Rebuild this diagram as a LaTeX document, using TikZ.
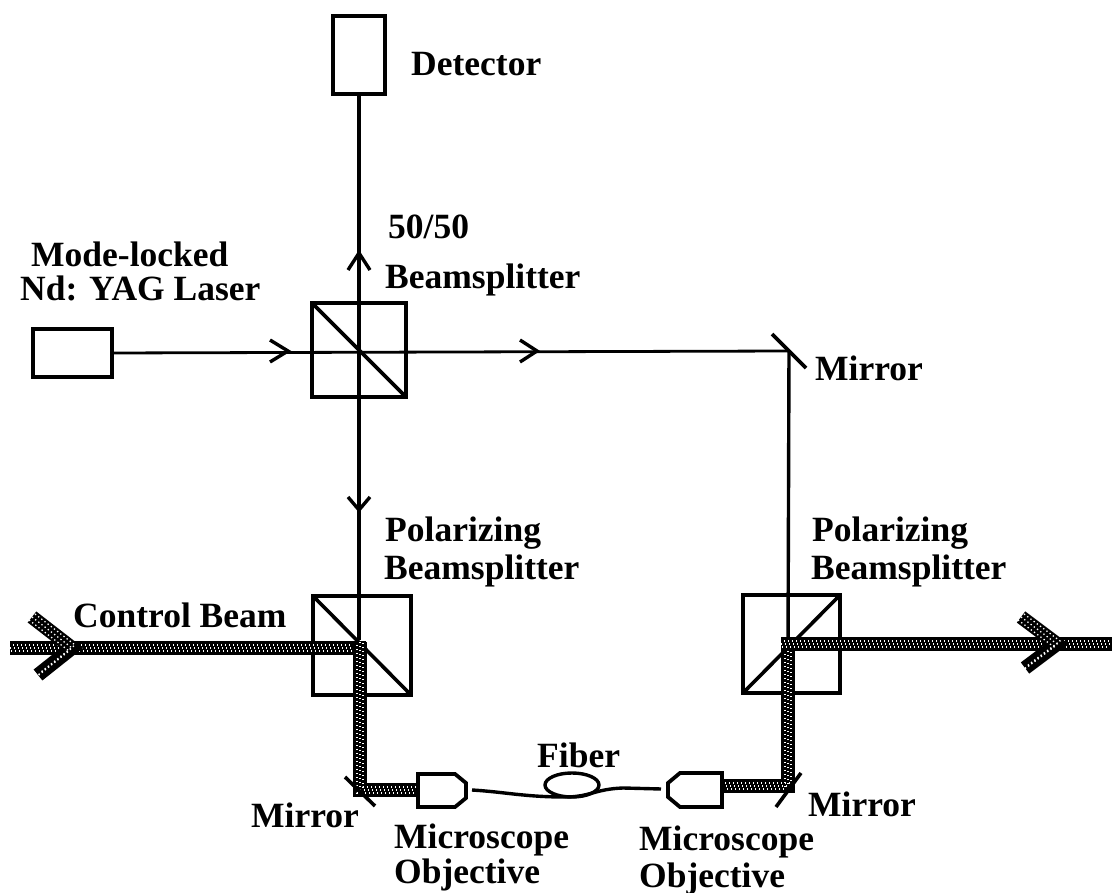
\documentclass[tikz,border=0pt]{standalone}
\usepackage{fontspec}
\setmainfont{Liberation Serif}
\usetikzlibrary{calc,shapes.geometric}
\begin{document}
\begin{tikzpicture}[x=1pt,y=-1pt,
  box/.style={draw=black,line width=3.8pt,fill=white,inner sep=0pt,outer sep=0pt},
  edge line/.style={draw=black,line width=3.6pt},
  ray/.style={draw=black,line width=3.4pt},
  thin ray/.style={draw=black,line width=2.8pt},
  barb/.style={draw=black,line width=3.4pt},
  fibre/.style={draw=black,line width=3.4pt},
  loop/.style={draw=black,line width=3.4pt,ellipse,inner sep=0pt,minimum width=54pt,minimum height=24pt},
  lab/.style={anchor=base west,inner sep=0pt,font=\fontsize{35.5}{40}\selectfont\bfseries},
  beam/.style={draw=black,line width=14pt,
    postaction={draw=white,line width=1.3pt,dash pattern=on 1.3pt off 2.7pt},
    postaction={draw=white,line width=1.3pt,dash pattern=on 1.3pt off 2.7pt,transform canvas={xshift=3pt,yshift=3pt}},
    postaction={draw=white,line width=1.3pt,dash pattern=on 1.3pt off 2.7pt,transform canvas={xshift=-3pt,yshift=-3pt}}}]
\path[fill=white] (0,0) rectangle (1112,893);
\useasboundingbox (0,0) rectangle (1112,893);

% nodes
\node[box,minimum width=52pt,minimum height=78pt] (det) at (359,55) {};
\node[box,minimum width=79pt,minimum height=48pt] (laser) at (72.5,353) {};
\node[box,minimum width=94pt,minimum height=94pt] (bs) at (359,350) {};
\node[box,minimum width=98pt,minimum height=99pt] (pl) at (362,645.5) {};
\node[box,minimum width=97pt,minimum height=98pt] (pr) at (791.5,644) {};

\coordinate (mtr) at (789,351);
\coordinate (plc) at (360,648);
\coordinate (prc) at (788,644);
\coordinate (mbl) at (360,790);
\coordinate (mbr) at (788,786);
\coordinate (olw) at (418,790);
\coordinate (ore) at (722,786);
\coordinate (inL) at (10,648);
\coordinate (inR) at (1112,644);
\coordinate (tipL) at (72,648);
\coordinate (tipR) at (1057,644);

% thin rays
\draw[ray] (det.south) -- (359,640);
\draw[thin ray] (laser.east) -- (mtr);
\draw[ray] (mtr) -- (788,650);
\draw[edge line] (bs.north west) -- (bs.south east);
\draw[edge line] (pl.north west) -- (pl.south east);
\draw[edge line] (pr.south west) -- (pr.north east);
\draw[edge line] (772,334) -- (806,368);

% ray arrowheads
\coordinate (a1) at (288,351);
\coordinate (a2) at (537,351);
\coordinate (a3) at (359,253);
\coordinate (a4) at (359,510);
\draw[barb] (270,340) -- (a1) -- (270,362);
\draw[barb] (520,340) -- (a2) -- (520,362);
\draw[barb] (348,270) -- (a3) -- (370,270);
\draw[barb] (348,497) -- (a4) -- (370,497);

% beams
\draw[beam] (inL) -- (366,648);
\draw[beam] (32,617) -- (tipL) -- (38,675);
\draw[beam] (360,642) -- (mbl) -- (olw);
\draw[beam] (ore) -- (mbr) -- (prc) ;
\draw[beam] (781,644) -- (inR);
\draw[beam] (1021,617) -- (tipR) -- (1025,668);

% mirrors
\draw[edge line] (345,777) -- (375,806);
\draw[edge line] (801,773) -- (776,807);

% objectives
\draw[box] (418,774) -- (455,774) -- (466,783) -- (466,798) -- (455,807) -- (418,807) -- cycle;
\draw[box] (722,773) -- (680,773) -- (668,783) -- (668,797) -- (680,807) -- (722,807) -- cycle;

% fibre
\node[loop] (floop) at (572,785) {};
\draw[fibre] (472,790) .. controls (505,792) and (525,797) .. (565,797)
  .. controls (590,797) and (595,789) .. (623,788) -- (661,789);

% labels
\node[lab] (t1) at (411,76) {Detector};
\node[lab] (t2) at (388,239) {50/50};
\node[lab] (t3) at (385,289) {Beamsplitter};
\node[lab] (t4) at (31,267) {Mode-locked};
\node[lab] (t5) at (20,301) {Nd: YAG Laser};
\node[lab] (t6) at (815,381) {Mirror};
\node[lab] (t7) at (385,541) {Polarizing};
\node[lab] (t8) at (384,579) {Beamsplitter};
\node[lab] (t9) at (812,541) {Polarizing};
\node[lab] (t10) at (811,579) {Beamsplitter};
\node[lab] (t11) at (73,627) {Control Beam};
\node[lab] (t12) at (537,767) {Fiber};
\node[lab] (t13) at (251,827) {Mirror};
\node[lab] (t14) at (808,816) {Mirror};
\node[lab] (t15) at (394,848) {Microscope};
\node[lab] (t16) at (394,883) {Objective};
\node[lab] (t17) at (639,850) {Microscope};
\node[lab] (t18) at (639,887) {Objective};
\end{tikzpicture}
\end{document}
